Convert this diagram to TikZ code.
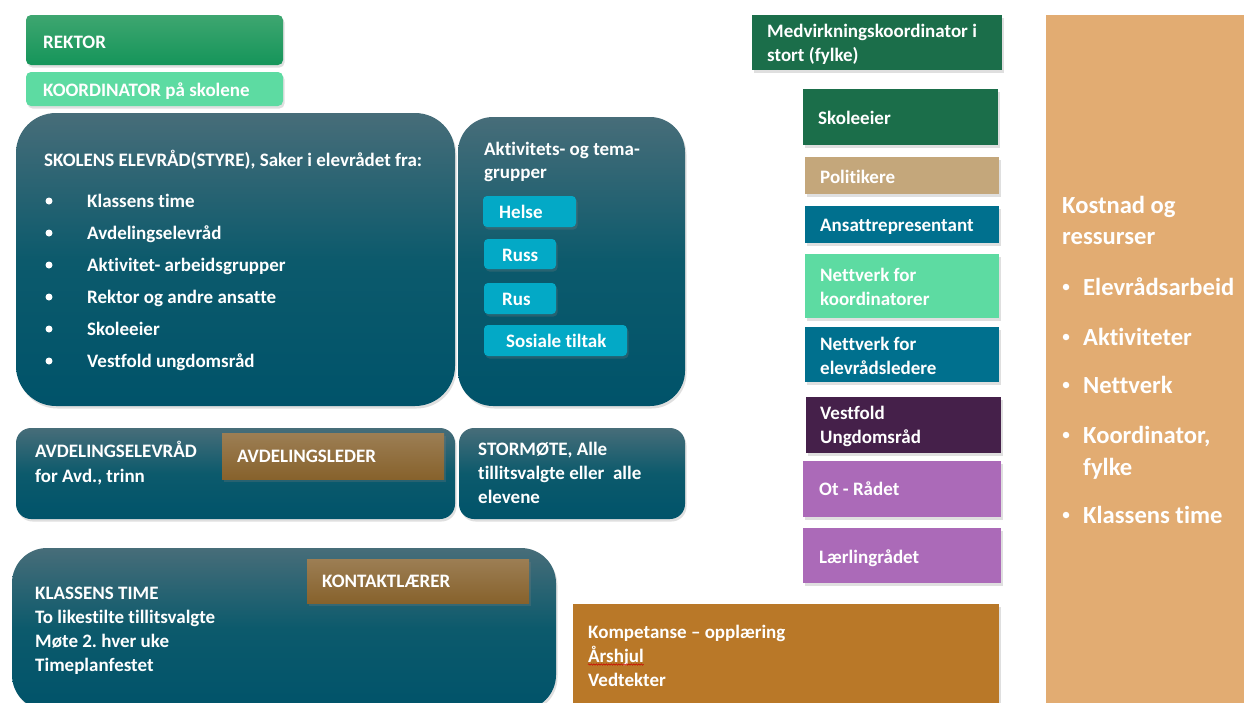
\documentclass[tikz,border=0pt]{standalone}
\usepackage{fontspec}
\setmainfont{Carlito}[Ligatures=NoCommon]
\usetikzlibrary{shadows,decorations.pathmorphing}
\definecolor{rekTop}{HTML}{3EA670}
\definecolor{rekBot}{HTML}{15955A}
\definecolor{mint}{HTML}{5DDBA2}
\definecolor{tealTop}{HTML}{476D79}
\definecolor{tealMid}{HTML}{0C5A6C}
\definecolor{tealBot}{HTML}{00536A}
\definecolor{cyanbtn}{HTML}{03A9C6}
\definecolor{brnTop}{HTML}{9C7E54}
\definecolor{brnBot}{HTML}{87622C}
\definecolor{dkgreen}{HTML}{1B6E4A}
\definecolor{politan}{HTML}{C4A77B}
\definecolor{petrol}{HTML}{00708E}
\definecolor{plum}{HTML}{45204A}
\definecolor{lilac}{HTML}{AB6AB8}
\definecolor{ochre}{HTML}{B97828}
\definecolor{sand}{HTML}{E2AC72}
\frenchspacing
\begin{document}
\begin{tikzpicture}[x=1pt,y=-1pt,
  shd/.style={drop shadow={opacity=0.25,shadow xshift=1.5pt,shadow yshift=-2.5pt}},
  box/.style={anchor=north west, inner sep=0pt, outer sep=0pt, shd},
  tealbox/.style={box, top color=tealTop, bottom color=tealBot, middle color=tealMid},
  brownbox/.style={box, top color=brnTop, bottom color=brnBot},
  btn/.style={box, fill=cyanbtn, rounded corners=4pt},
  tx/.style={anchor=base west, inner sep=0pt, text=white, font=\fontsize{19}{24}\selectfont\bfseries},
  bigtx/.style={tx, font=\fontsize{24.6}{30}\selectfont\bfseries},
  dot/.style={circle, fill=white, inner sep=0pt, minimum size=7pt},
  kdot/.style={circle, fill=white, inner sep=0pt, minimum size=6.5pt}]
\clip (0,0) rectangle (1244,702);
\fill[white] (0,0) rectangle (1244,702);

% left column
\node[box, top color=rekTop, bottom color=rekBot, rounded corners=5pt, minimum width=257pt, minimum height=50pt] (rektor) at (26,15) {};
\node[tx] (rektorT) at (43,48) {REKTOR};
\node[box, fill=mint, rounded corners=5pt, minimum width=257pt, minimum height=34pt] (koord) at (26,72) {};
\node[tx] (koordT) at (43,96) {KOORDINATOR på skolene};

\node[tealbox, rounded corners=40pt, minimum width=439pt, minimum height=293pt] (elevrad) at (16,113) {};
\node[tx] (elevradT) at (44,166) {SKOLENS ELEVRÅD(STYRE), Saker i elevrådet fra:};
\foreach \i/\yy/\t in {1/207/Klassens time, 2/239/Avdelingselevråd, 3/271/Aktivitet- arbeidsgrupper, 4/303/Rektor og andre ansatte, 5/335/Skoleeier, 6/367/Vestfold ungdomsråd}{
  \node[dot] (d\i) at (49,\yy-6) {};
  \node[tx] (b\i) at (87,\yy) {\t};
}

\node[tealbox, rounded corners=35pt, minimum width=227pt, minimum height=289pt] (akt) at (458,117) {};
\node[tx] (aktT1) at (484,155) {Aktivitets- og tema-};
\node[tx] (aktT2) at (484,178) {grupper};
\node[btn, minimum width=93pt, minimum height=31pt] (helse) at (483,196) {};
\node[tx] (helseT) at (499,218) {Helse};
\node[btn, minimum width=72pt, minimum height=30pt] (russ) at (484,239) {};
\node[tx] (russT) at (502,261) {Russ};
\node[btn, minimum width=72pt, minimum height=31pt] (rus) at (484,283) {};
\node[tx] (rusT) at (502,305) {Rus};
\node[btn, minimum width=143pt, minimum height=31pt] (sos) at (484,325) {};
\node[tx] (sosT) at (506,347) {Sosiale tiltak};

\node[tealbox, rounded corners=15pt, minimum width=439pt, minimum height=91pt] (avd) at (16,428) {};
\node[tx] (avdT1) at (35,457) {AVDELINGSELEVRÅD};
\node[tx] (avdT2) at (35,482) {for Avd., trinn};
\node[brownbox, minimum width=222pt, minimum height=46pt] (avdl) at (222,433) {};
\node[tx] (avdlT) at (237,462) {AVDELINGSLEDER};

\node[tealbox, rounded corners=15pt, minimum width=226pt, minimum height=91pt] (storm) at (459,428) {};
\node[tx] (stormT1) at (478,455) {STORMØTE, Alle};
\node[tx] (stormT2) at (478,479) {tillitsvalgte eller\ \ alle};
\node[tx] (stormT3) at (478,503) {elevene};

\node[tealbox, rounded corners=35pt, minimum width=544pt, minimum height=162pt] (klasse) at (12,548) {};
\node[tx] (klT1) at (35,599) {KLASSENS TIME};
\node[tx] (klT2) at (35,623) {To likestilte tillitsvalgte};
\node[tx] (klT3) at (35,647) {Møte 2. hver uke};
\node[tx] (klT4) at (35,671) {Timeplanfestet};
\node[brownbox, minimum width=222pt, minimum height=44pt] (kontakt) at (307,559) {};
\node[tx] (kontaktT) at (322,587) {KONTAKTLÆRER};

% middle-right column
\node[box, fill=ochre, minimum width=426pt, minimum height=110pt] (komp) at (573,604) {};
\node[tx] (kompT1) at (588,638) {Kompetanse – opplæring};
\node[tx] (kompT2) at (588,662) {Årshjul};
\node[tx] (kompT3) at (588,686) {Vedtekter};
\draw[red!80!black, line width=0.5pt, decorate, decoration={snake, amplitude=0.7pt, segment length=2.5pt}]
  ([yshift=-2.5pt]kompT2.base west) -- ([yshift=-2.5pt]kompT2.base east);

\node[box, fill=dkgreen, minimum width=250pt, minimum height=55pt] (medv) at (752,15) {};
\node[tx] (medvT1) at (767,37) {Medvirkningskoordinator i};
\node[tx] (medvT2) at (767,61) {stort (fylke)};
\node[box, fill=dkgreen, minimum width=195pt, minimum height=56pt] (skoleeier) at (803,89) {};
\node[tx] (skoleeierT) at (818,124) {Skoleeier};
\node[box, fill=politan, minimum width=194pt, minimum height=37pt] (polit) at (805,157) {};
\node[tx] (politT) at (820,183) {Politikere};
\node[box, fill=petrol, minimum width=194pt, minimum height=37pt] (ansatt) at (805,206) {};
\node[tx] (ansattT) at (820,231) {Ansattrepresentant};
\node[box, fill=mint, minimum width=194pt, minimum height=64pt] (nk) at (805,254) {};
\node[tx] (nkT1) at (820,281) {Nettverk for};
\node[tx] (nkT2) at (820,305) {koordinatorer};
\node[box, fill=petrol, minimum width=194pt, minimum height=55pt] (ne) at (805,327) {};
\node[tx] (neT1) at (820,350) {Nettverk for};
\node[tx] (neT2) at (820,374) {elevrådsledere};
\node[box, fill=plum, minimum width=195pt, minimum height=56pt] (vest) at (806,397) {};
\node[tx] (vestT1) at (820,419) {Vestfold};
\node[tx] (vestT2) at (820,443) {Ungdomsråd};
\node[box, fill=lilac, minimum width=198pt, minimum height=56pt] (ot) at (803,461) {};
\node[tx] (otT) at (819,495) {Ot - Rådet};
\node[box, fill=lilac, minimum width=198pt, minimum height=55pt] (laer) at (803,528) {};
\node[tx] (laerT) at (819,563) {Lærlingrådet};

% right column
\node[box, fill=sand, minimum width=200pt, minimum height=700pt] (kost) at (1046,15) {};
\node[bigtx] (kostT1) at (1062,213) {Kostnad og};
\node[bigtx] (kostT2) at (1062,244) {ressurser};
\foreach \i/\yy/\t in {1/295/Elevrådsarbeid, 2/345/Aktiviteter, 3/393/Nettverk, 4/443/{Koordinator,}, 5/523/Klassens time}{
  \node[kdot] (kd\i) at (1066,\yy-8) {};
  \node[bigtx] (k\i) at (1083,\yy) {\t};
}
\node[bigtx] (k4b) at (1083,475) {fylke};
\end{tikzpicture}
\end{document}
